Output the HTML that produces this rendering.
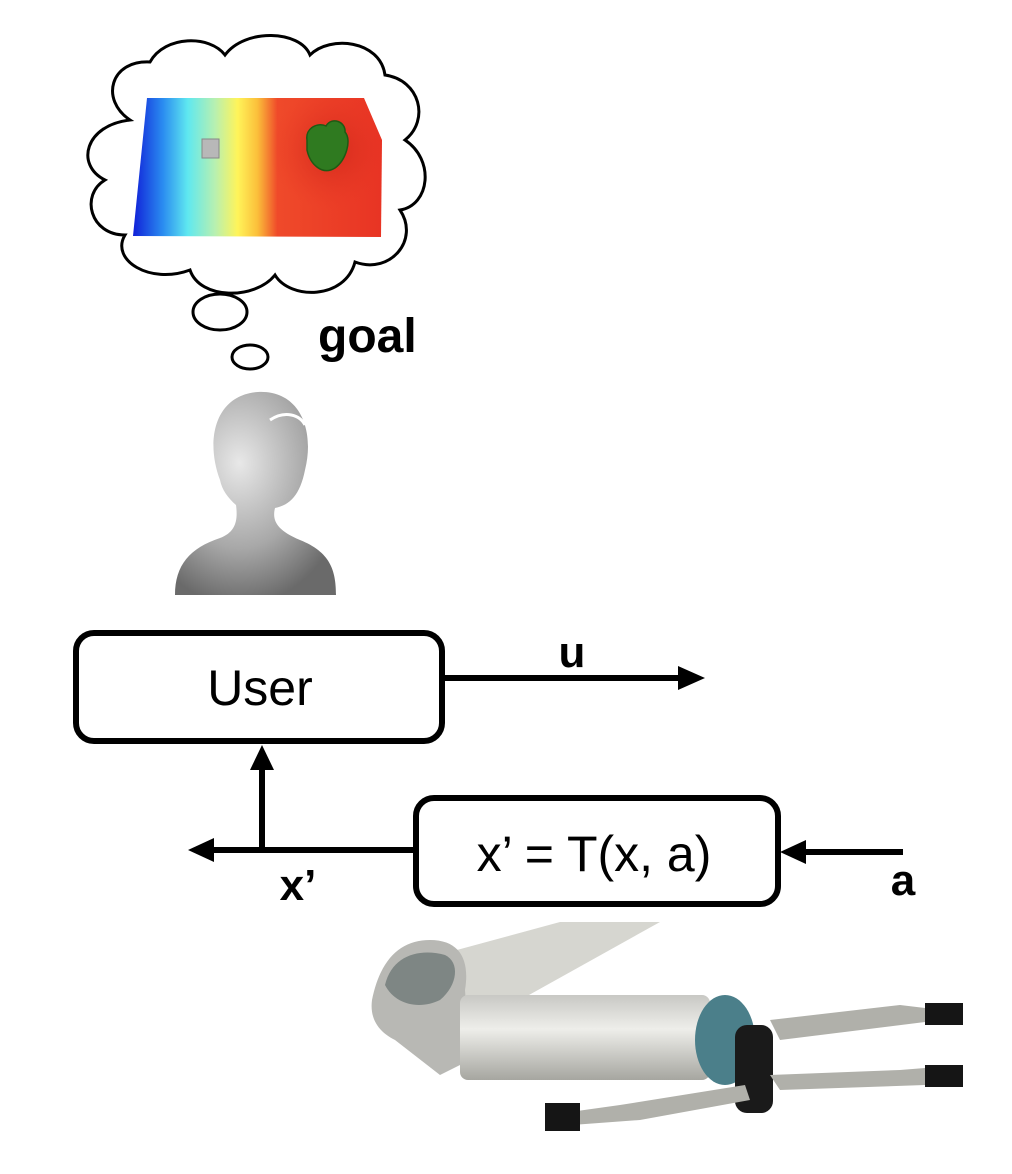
<!DOCTYPE html>
<html><head><meta charset="utf-8"><style>
html,body{margin:0;padding:0;background:#fff;}
svg{display:block;}
text{font-family:"Liberation Sans",Arial,sans-serif;}
</style></head><body>
<svg width="1012" height="1174" viewBox="0 0 1012 1174" xmlns="http://www.w3.org/2000/svg">
<defs>
<linearGradient id="hg" x1="133" y1="0" x2="382" y2="0" gradientUnits="userSpaceOnUse">
<stop offset="0" stop-color="#1020d8"/>
<stop offset="0.12" stop-color="#2a8cf0"/>
<stop offset="0.22" stop-color="#5fe8f0"/>
<stop offset="0.33" stop-color="#b8f0b0"/>
<stop offset="0.42" stop-color="#fff45a"/>
<stop offset="0.5" stop-color="#fbbf3a"/>
<stop offset="0.58" stop-color="#ef4a2a"/>
<stop offset="1" stop-color="#e83424"/>
</linearGradient>
<radialGradient id="rg" cx="330" cy="150" r="60" gradientUnits="userSpaceOnUse">
<stop offset="0" stop-color="#c01c14" stop-opacity="0.6"/>
<stop offset="1" stop-color="#e83424" stop-opacity="0"/>
</radialGradient>
<radialGradient id="pg" cx="0.4" cy="0.35" r="0.7">
<stop offset="0" stop-color="#e8e8e8"/>
<stop offset="0.6" stop-color="#a8a8a8"/>
<stop offset="1" stop-color="#6a6a6a"/>
</radialGradient>
<linearGradient id="arm" x1="0" y1="0" x2="0" y2="1">
<stop offset="0" stop-color="#c8c8c4"/>
<stop offset="0.4" stop-color="#eeeeea"/>
<stop offset="1" stop-color="#a6a6a0"/>
</linearGradient>
</defs>
<g fill="#fff" stroke="#000" stroke-width="3">
<path d="M130,120 C100,100 110,60 150,62 C165,35 210,35 225,55 C245,28 300,30 310,55 C330,35 380,40 385,75 C420,80 430,120 405,140 C435,160 430,205 400,210 C420,240 390,275 355,262 C345,300 290,300 275,275 C255,300 200,300 190,270 C150,285 110,260 125,235 C90,235 80,195 105,180 C75,165 85,125 130,120 Z"/>
<ellipse cx="220" cy="312" rx="27" ry="18"/>
<ellipse cx="250" cy="357" rx="18" ry="12"/>
</g>
<polygon points="147,98 364,98 382,140 381,237 133,236" fill="url(#hg)"/>
<polygon points="147,98 364,98 382,140 381,237 133,236" fill="url(#rg)"/>
<rect x="202" y="139" width="17" height="19" fill="#b8b8b8" stroke="#888" stroke-width="1"/>
<path d="M307,140 C305,128 318,122 326,126 C332,116 346,122 345,132 C352,140 346,160 335,168 C322,176 310,164 307,150 Z" fill="#2f7a20" stroke="#1f5a14" stroke-width="1.5"/>
<text x="318" y="352" font-size="48" font-weight="bold">goal</text>
<path d="M220,480 C205,440 215,395 258,392 C300,390 315,430 305,470 C300,495 290,505 275,508 C272,520 276,530 300,540 C330,552 336,570 336,595 L175,595 C175,565 190,548 220,538 C236,532 238,520 236,505 C228,498 222,490 220,480 Z" fill="url(#pg)"/>
<path d="M270,420 C285,410 300,415 305,425" stroke="#fff" stroke-width="3" fill="none"/>
<rect x="76" y="633" width="366" height="108" rx="18" fill="#fff" stroke="#000" stroke-width="6"/>
<text x="260" y="705" font-size="50" text-anchor="middle">User</text>
<line x1="445" y1="678" x2="683" y2="678" stroke="#000" stroke-width="6"/>
<polygon points="705,678 678,666 678,690" fill="#000"/>
<text x="572" y="667" font-size="44" font-weight="bold" text-anchor="middle">u</text>
<line x1="262" y1="850" x2="262" y2="765" stroke="#000" stroke-width="6"/>
<polygon points="262,745 250,770 274,770" fill="#000"/>
<line x1="413" y1="850" x2="210" y2="850" stroke="#000" stroke-width="6"/>
<polygon points="188,850 214,838 214,862" fill="#000"/>
<text x="298" y="900" font-size="44" font-weight="bold" text-anchor="middle">x’</text>
<rect x="416" y="798" width="362" height="106" rx="18" fill="#fff" stroke="#000" stroke-width="6"/>
<text x="594" y="871" font-size="50" text-anchor="middle">x’ = T(x, a)</text>
<line x1="903" y1="852" x2="802" y2="852" stroke="#000" stroke-width="6"/>
<polygon points="780,852 806,840 806,864" fill="#000"/>
<text x="903" y="895" font-size="44" font-weight="bold" text-anchor="middle">a</text>
<polygon points="420,960 560,922 660,922 520,1000 440,1000" fill="#d6d6d0"/>
<path d="M372,1000 C380,960 400,940 430,940 C460,940 470,960 465,990 L470,1060 L440,1075 L395,1040 C375,1030 370,1015 372,1000 Z" fill="#b8b8b4"/>
<path d="M385,985 C392,955 420,948 445,955 C460,962 458,985 440,1000 C420,1010 395,1005 385,985 Z" fill="#7e8684"/>
<rect x="460" y="995" width="250" height="85" rx="8" fill="url(#arm)"/>
<ellipse cx="725" cy="1040" rx="30" ry="45" fill="#4b7f8a"/>
<rect x="735" y="1025" width="38" height="88" rx="12" fill="#1a1a1a"/>
<polygon points="770,1020 900,1005 925,1008 925,1022 780,1040" fill="#b0b0aa"/>
<rect x="925" y="1003" width="38" height="22" fill="#151515"/>
<polygon points="770,1075 900,1070 925,1068 925,1085 780,1090" fill="#b0b0aa"/>
<rect x="925" y="1065" width="38" height="22" fill="#151515"/>
<polygon points="745,1085 620,1105 570,1112 572,1125 640,1120 750,1100" fill="#b0b0aa"/>
<rect x="545" y="1103" width="35" height="28" fill="#151515"/>
</svg>
</body></html>
